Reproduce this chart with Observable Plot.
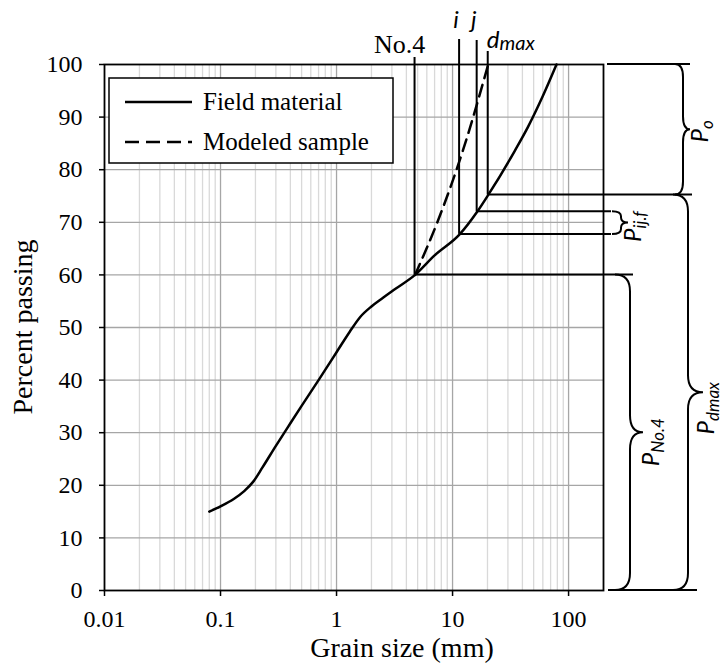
<!DOCTYPE html>
<html><head><meta charset="utf-8">
<script src="https://cdn.jsdelivr.net/npm/d3@7"></script>
<script src="https://cdn.jsdelivr.net/npm/@observablehq/plot@0.6"></script>
<style>
html,body{margin:0;padding:0;background:#fff;}
#chart{width:723px;height:670px;}
#chart svg, #chart svg text, #chart svg g{font-family:"Liberation Serif","DejaVu Serif","Noto Serif",serif !important;}
#chart svg text.sans, #chart svg text.sans tspan{font-family:Lato,"Open Sans","DejaVu Sans",sans-serif !important;font-style:italic;}
</style></head><body><div id="chart"></div>
<script>
// ---------- data ----------
const fieldSize = [0.08, 0.1, 0.13, 0.16, 0.19, 0.23, 0.3, 0.4, 0.5, 0.7, 1, 1.3, 1.6, 2, 2.5, 3.2, 4.75, 7, 11.5, 16.3, 20.3, 34.4, 44.6, 60, 78.7];
const fieldPass = [15, 16, 17.4, 18.9, 20.6, 23.4, 27.5, 31.8, 35.1, 40, 45.3, 49.2, 52, 54, 55.6, 57.3, 60, 63.7, 67.7, 72, 75.2, 83.6, 88.1, 94, 100];
const modelSize = [4.75, 7.3, 12.3, 20.3];
const modelPass = [60, 69.7, 83.7, 100];
const sieveNames = ["No.4", "i", "j", "d"];
const sieveSubs = ["", "", "", "max"];
const sieveSize = [4.75, 11.5, 16.3, 20.3];
const sievePass = [60, 67.7, 72, 75.2];
const xTicks = [0.01, 0.1, 1, 10, 100];
const xTickLabels = ["0.01", "0.1", "1", "10", "100"];
const yTicks = [0, 10, 20, 30, 40, 50, 60, 70, 80, 90, 100];
const braceSubs = ["o", "ij.f", "No.4", "dmax"];
const braceFrom = [75.2, 67.7, 0, 0];
const braceTo = [100, 72, 60, 75.2];
const legendNames = ["Field material", "Modeled sample"];
const xTitle = "Grain size (mm)";
const yTitle = "Percent passing";

// ---------- layout / style ----------
const W = 723, H = 670;
const M = {left: 104, right: 120, top: 64, bottom: 80};
const serif = "Liberation Serif";
const guideTopExtra = [7, 25, 24, 13];          // px above the frame
const guideRightExtra = [30, 8, 8, 89];         // px beyond the frame
const braceGeom = [                              // end, spine, tip (px beyond frame), radius, label x offset, label dy
  {e: 72, s: 80, t: 87, r: 13, lx: 105, ly: 2},
  {e: 9, s: 18, t: 25, r: 5, lx: 38, ly: 4},
  {e: 12, s: 27, t: 40, r: 17, lx: 56, ly: 10},
  {e: 70, s: 85, t: 100, r: 17, lx: 111, ly: 16}
];

const field = fieldSize.map((s, i) => ({size: s, pass: fieldPass[i]}));
const model = modelSize.map((s, i) => ({size: s, pass: modelPass[i]}));
const minor = [], major = [0.1, 1, 10, 100];
for (const d of [0.01, 0.1, 1, 10]) for (let k = 2; k <= 9; k++) minor.push(+(d * k).toPrecision(3));

function annotations(index, scales, values, dims) {
  const X = scales.x, Y = scales.y;
  const right = dims.width - dims.marginRight;
  const top = dims.marginTop, bottom = dims.height - dims.marginBottom;
  const g = d3.create("svg:g").attr("text-anchor", "start");
  // guides
  sieveSize.forEach((s, i) => {
    const x = X(s), y = Y(sievePass[i]);
    g.append("line").attr("x1", x).attr("x2", x).attr("y1", y).attr("y2", top - guideTopExtra[i])
      .attr("stroke", "#000").attr("stroke-width", 2);
    g.append("line").attr("x1", x).attr("x2", right + guideRightExtra[i]).attr("y1", y).attr("y2", y)
      .attr("stroke", "#000").attr("stroke-width", 2);
  });
  // brace boundary lines at 100 and 0
  g.append("line").attr("x1", right + 4).attr("x2", right + 87).attr("y1", Y(100)).attr("y2", Y(100)).attr("stroke", "#000").attr("stroke-width", 1.8);
  g.append("line").attr("x1", right + 5).attr("x2", right + 94).attr("y1", Y(0)).attr("y2", Y(0)).attr("stroke", "#000").attr("stroke-width", 1.8);
  // braces
  braceSubs.forEach((sub, i) => {
    const b = braceGeom[i];
    const yt = Y(braceTo[i]), yb = Y(braceFrom[i]), ym = (yt + yb) / 2;
    const xe = right + b.e, xs = right + b.s, xt = right + b.t, r = b.r;
    const p = `M${xe},${yt} Q${xs},${yt} ${xs},${yt + r} L${xs},${ym - r} Q${xs},${ym} ${xt},${ym} Q${xs},${ym} ${xs},${ym + r} L${xs},${yb - r} Q${xs},${yb} ${xe},${yb}`;
    g.append("path").attr("d", p).attr("fill", "none").attr("stroke", "#000").attr("stroke-width", 2);
    const t = g.append("text").attr("class", "sans").attr("transform", `translate(${right + b.lx},${ym + b.ly}) rotate(-90)`)
      .attr("text-anchor", "middle").attr("font-size", 24).attr("fill", "#000");
    t.append("tspan").text("P");
    t.append("tspan").attr("font-size", 17).attr("dy", 5).text(sub);
  });
  // sieve labels
  sieveNames.forEach((n, i) => {
    const x = X(sieveSize[i]);
    if (i === 0) {
      g.append("text").attr("x", x - 15).attr("y", top - 11).attr("text-anchor", "middle")
        .attr("font-size", 26).attr("fill", "#000").text(n);
    } else {
      const t = g.append("text").attr("class", "sans").attr("x", i === 3 ? x - 1 : x - 3).attr("y", i === 3 ? top - 16 : top - 36)
        .attr("text-anchor", i === 3 ? "start" : "middle").attr("font-size", 24).attr("fill", "#000");
      t.append("tspan").text(n);
      if (sieveSubs[i]) t.append("tspan").attr("font-size", 20).attr("dy", 2).text(sieveSubs[i]);
    }
  });
  // legend
  const lx = dims.marginLeft + 5, ly = top + 14;
  g.append("rect").attr("x", lx).attr("y", ly).attr("width", 284).attr("height", 85)
    .attr("fill", "#fff").attr("stroke", "#000").attr("stroke-width", 1.5);
  legendNames.forEach((n, i) => {
    const yy = ly + 24 + i * 40;
    g.append("line").attr("x1", lx + 16).attr("x2", lx + 83).attr("y1", yy).attr("y2", yy)
      .attr("stroke", "#000").attr("stroke-width", 2.5).attr("stroke-dasharray", i ? "14,7" : null);
    g.append("text").attr("x", lx + 94).attr("y", yy).attr("dy", "0.33em").attr("text-anchor", "start")
      .attr("font-size", 25).attr("fill", "#000").text(n);
  });
  // axis titles
  g.append("text").attr("x", 402).attr("y", H - 13).attr("text-anchor", "middle")
    .attr("font-size", 28).attr("fill", "#000").text(xTitle);
  g.append("text").attr("transform", `translate(32,${(top + bottom) / 2}) rotate(-90)`).attr("text-anchor", "middle")
    .attr("font-size", 28).attr("fill", "#000").text(yTitle);
  return g.node();
}

const chart = Plot.plot({
  width: W, height: H,
  marginLeft: M.left, marginRight: M.right, marginTop: M.top, marginBottom: M.bottom,
  style: {fontFamily: serif, fontSize: "24px", color: "#000", background: "#fff", overflow: "visible"},
  x: {type: "log", domain: [0.01, 200]},
  y: {domain: [0, 100]},
  marks: [
    Plot.ruleX(minor, {stroke: "#d9d9d9", strokeWidth: 1.3}),
    Plot.ruleX(major, {stroke: "#a6a6a6", strokeWidth: 1.3}),
    Plot.ruleY(yTicks.filter(v => v > 0 && v < 100), {stroke: "#a6a6a6", strokeWidth: 1.3}),
    Plot.axisX({ticks: xTicks, tickFormat: d => xTickLabels[xTicks.indexOf(d)], tickSize: 6, tickPadding: 13, label: null, fontSize: 24, fontFamily: serif, stroke: "#000", strokeWidth: 1.5, fill: "#000"}),
    Plot.axisY({ticks: yTicks, tickSize: 5, tickPadding: 17, label: null, fontSize: 24, fontFamily: serif, stroke: "#000", strokeWidth: 1.5, fill: "#000"}),
    Plot.frame({stroke: "#000", strokeWidth: 1.8}),
    Plot.line(model, {x: "size", y: "pass", stroke: "#000", strokeWidth: 2.5, strokeDasharray: "12,7", curve: "monotone-x"}),
    Plot.line(field, {x: "size", y: "pass", stroke: "#000", strokeWidth: 2.5, curve: "monotone-x"}),
    annotations
  ]
});
document.getElementById("chart").appendChild(chart);
</script>
</body></html>
